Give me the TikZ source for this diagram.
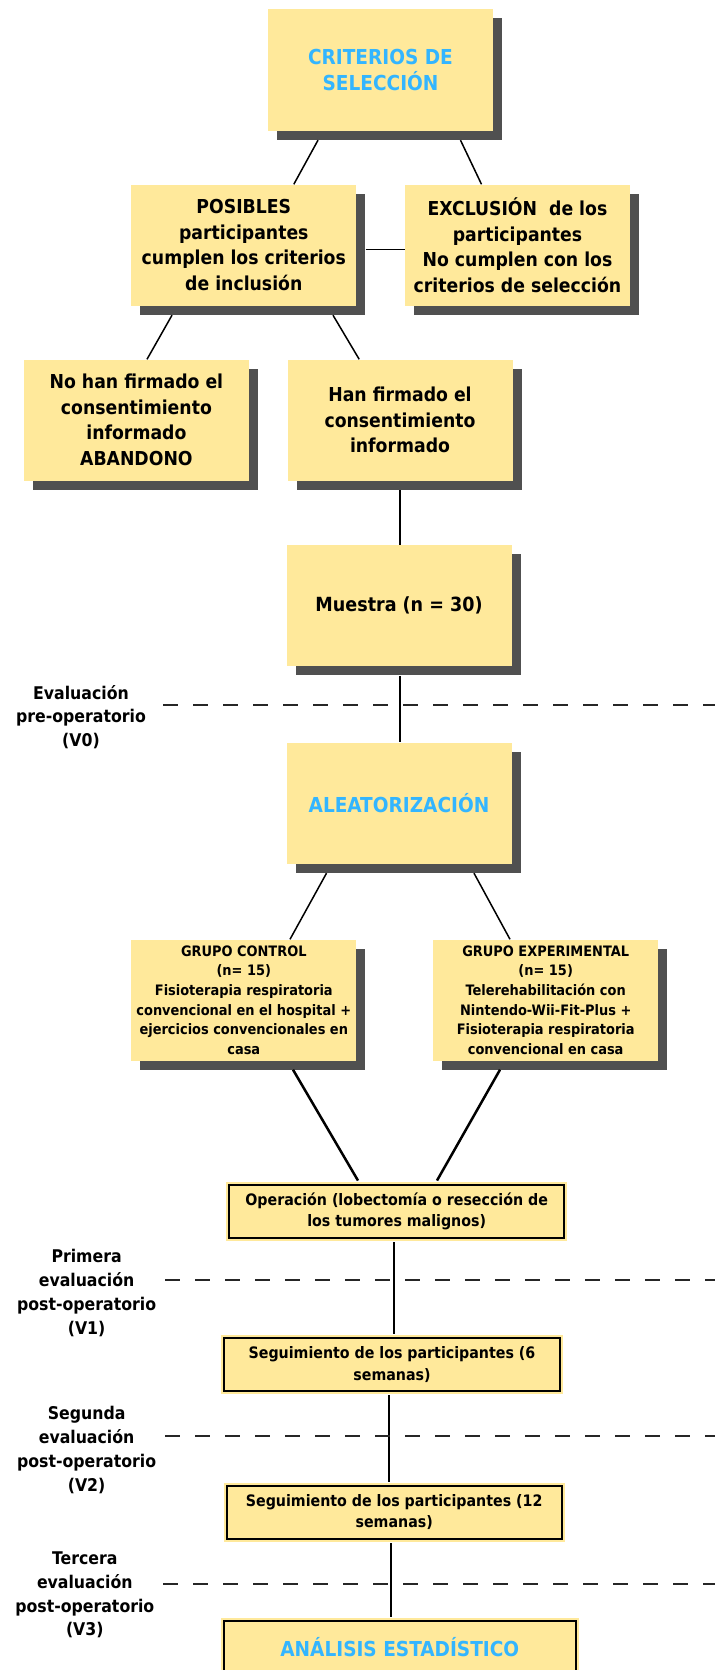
\documentclass[tikz,border=0pt]{standalone}
\usepackage{fontspec}
\setmainfont{DejaVu Sans Condensed}
\usetikzlibrary{calc,shadows}

\definecolor{boxyellow}{RGB}{255,233,155}
\definecolor{shadowgray}{RGB}{80,80,80}
\definecolor{titleblue}{RGB}{51,181,255}

\tikzset{
  bigbox/.style={fill=boxyellow, minimum width=225pt, minimum height=121pt,
    inner sep=0pt, align=center, font=\fontsize{19.2}{25.5}\selectfont\bfseries,
    drop shadow={shadow xshift=9pt, shadow yshift=-9pt, opacity=1, fill=shadowgray}},
  groupbox/.style={bigbox, font=\fontsize{14.4}{19.6}\selectfont\bfseries},
  stepbox/.style={fill=boxyellow, draw=black, line width=2pt,
    preaction={draw=boxyellow, line width=6pt}, inner sep=0pt,
    minimum height=53.5pt, align=center, font=\fontsize{15.8}{21.4}\selectfont\bfseries},
  titletext/.style={text=titleblue, font=\fontsize{20.6}{25.5}\selectfont\bfseries},
  evallabel/.style={align=center, font=\fontsize{17.5}{23.7}\selectfont\bfseries},
  evalline/.style={line width=2pt, dash pattern=on 15pt off 15pt, draw=black!85},
  link/.style={line width=1.5pt},
  thicklink/.style={line width=2.5pt},
}

\begin{document}
\begin{tikzpicture}[x=1pt,y=-1pt]

\useasboundingbox (0,0) rectangle (715,1670);
\fill[white] (0,0) rectangle (715,1670);

%selection boxes
\node[bigbox, titletext] (crit)    at (380.5,70)  {CRITERIOS DE\\SELECCIÓN};
\node[bigbox]            (pos)     at (243.8,245) {POSIBLES\\participantes\\cumplen los criterios\\de inclusión};
\node[bigbox]            (excl)    at (517.5,245) {EXCLUSIÓN~~de los\\participantes\\No cumplen con los\\criterios de selección};
\node[bigbox]            (nofirm)  at (136.4,420) {No han firmado el\\consentimiento\\informado\\ABANDONO};
\node[bigbox]            (firm)    at (400,420)   {Han firmado el\\consentimiento\\informado};
\node[bigbox, font=\fontsize{19.5}{25.5}\selectfont\bfseries]
                         (muestra) at (399,605.7) {Muestra (n = 30)};
\node[bigbox, titletext] (aleat)   at (399,803)   {ALEATORIZACIÓN};
%
\node[groupbox] (gcontrol) at (243.8,1000) {GRUPO CONTROL\\(n= 15)\\Fisioterapia respiratoria\\convencional en el hospital +\\ejercicios convencionales en\\casa};
\node[groupbox] (gexp)     at (545.7,1000) {GRUPO EXPERIMENTAL\\(n= 15)\\Telerehabilitación con\\Nintendo-Wii-Fit-Plus +\\Fisioterapia respiratoria\\convencional en casa};

%follow-up boxes
\node[stepbox, minimum width=335.5pt] (oper)  at (396.7,1211.3) {Operación (lobectomía o resección de\\los tumores malignos)};
\node[stepbox, minimum width=336pt]   (seg6)  at (392,1364.5)   {Seguimiento de los participantes (6\\semanas)};
\node[stepbox, minimum width=335pt]   (seg12) at (394.2,1512.3) {Seguimiento de los participantes (12\\semanas)};
\node[stepbox, titletext, minimum width=351.5pt, minimum height=53.6pt]
                                      (anal)  at (399.8,1647.5) {ANÁLISIS ESTADÍSTICO};

%connectors
\draw [link] ($(crit.south)+(-62.5,9.5)$) -- ($(pos.north)+(50,0)$);
\draw [link] ($(crit.south)+(80,9.5)$)    -- ($(excl.north)+(-36,0)$);
\draw [link] ($(pos.east)+(9,4.5)$)       -- ($(excl.west)+(0,4.5)$);
\draw [link] ($(pos.south)+(-71.8,9.5)$)  -- ($(nofirm.north)+(10.6,0)$);
\draw [link] ($(pos.south)+(89.2,9.5)$)   -- ($(firm.north)+(-40.8,0)$);
\draw [link] ($(firm.south)+(0,9.5)$)     -- (firm.south |- muestra.north);
\draw [link] ($(muestra.south)+(1,9.5)$)  -- ($(aleat.north)+(1,0)$);
\draw [link] ($(aleat.south)+(-72.5,9.5)$) -- ($(gcontrol.north)+(46.2,0)$);
\draw [link] ($(aleat.south)+(75,9.5)$)   -- ($(gexp.north)+(-35.7,0)$);
%
\draw [thicklink] ($(gcontrol.south)+(49.2,9)$) -- ($(oper.north)+(-38.7,-3)$);
\draw [thicklink] ($(gexp.south)+(-45.7,9)$)    -- ($(oper.north)+(40.3,-3)$);
\draw [link] ($(oper.south)+(-2.7,3)$)  -- ($(seg6.north)+(2,-3)$);
\draw [link] ($(seg6.south)+(-3,3)$)    -- ($(seg12.north)+(-5.2,-3)$);
\draw [link] ($(seg12.south)+(-3.2,3)$) -- ($(anal.north)+(-8.8,-3)$);

%evaluation lines
\coordinate (v0a) at (163,705.4);  \coordinate (v0b) at (715,705.4);
\coordinate (v1a) at (165,1280);   \coordinate (v1b) at (715,1280);
\coordinate (v2a) at (165,1436);   \coordinate (v2b) at (715,1436);
\coordinate (v3a) at (163,1584);   \coordinate (v3b) at (715,1584);
\draw [evalline] (v0a) -- (v0b);
\draw [evalline] (v1a) -- (v1b);
\draw [evalline] (v2a) -- (v2b);
\draw [evalline] (v3a) -- (v3b);

%labels
\node[evallabel] (v0) at (81,717)    {Evaluación\\pre-operatorio\\(V0)};
\node[evallabel] (v1) at (86.6,1293) {Primera\\evaluación\\post-operatorio\\(V1)};
\node[evallabel] (v2) at (86.6,1450) {Segunda\\evaluación\\post-operatorio\\(V2)};
\node[evallabel] (v3) at (84.8,1595) {Tercera\\evaluación\\post-operatorio\\(V3)};

\end{tikzpicture}
\end{document}
